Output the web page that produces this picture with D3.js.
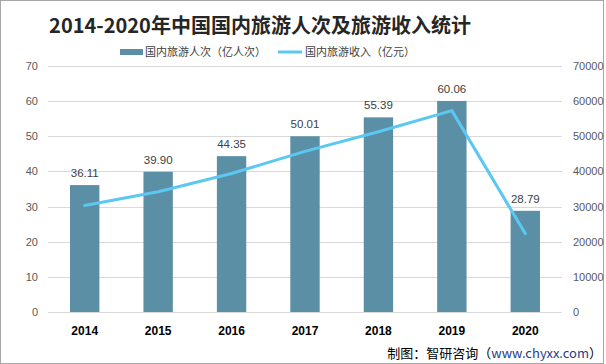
<!DOCTYPE html>
<html><head><meta charset="utf-8">
<script src="https://cdn.jsdelivr.net/npm/d3@7"></script>
<style>
body{margin:0;background:#fff;}
svg{display:block;font-family:"Noto Sans CJK SC","Noto Sans",sans-serif;}
</style></head>
<body><svg id="c" width="606" height="364"></svg>
<script>
const years = ["2014","2015","2016","2017","2018","2019","2020"];
const visitors = [36.11, 39.90, 44.35, 50.01, 55.39, 60.06, 28.79];
const revenue = [30300, 34200, 39400, 45700, 51300, 57300, 22300];
const leftTicks = [0,10,20,30,40,50,60,70];
const rightTicks = [0,10000,20000,30000,40000,50000,60000,70000];

const svg = d3.select("#c");
const W = 606, H = 364;
const m = {left:48, right:44, top:66, bottom:52};
const x = d3.scaleBand().domain(years).range([m.left, W-m.right]).paddingInner(0.6).paddingOuter(0.3);
const yL = d3.scaleLinear().domain([0,70]).range([H-m.bottom, m.top]);
const yR = d3.scaleLinear().domain([0,70000]).range([H-m.bottom, m.top]);

// border
svg.append("rect").attr("x",0.5).attr("y",0.5).attr("width",W-3).attr("height",H-1)
  .attr("fill","none").attr("stroke","#a6a6a6");

// gridlines
svg.append("g").selectAll("line").data(leftTicks).join("line")
  .attr("x1",m.left).attr("x2",W-m.right)
  .attr("y1",d=>Math.round(yL(d))+0.5).attr("y2",d=>Math.round(yL(d))+0.5)
  .attr("stroke","#d9d9d9").attr("stroke-width",1);

// left axis
const gL = svg.append("g").attr("transform",`translate(${m.left-10},0)`)
  .call(d3.axisLeft(yL).tickValues(leftTicks).tickSize(0).tickPadding(0));
gL.select(".domain").remove();
gL.selectAll("text").attr("fill","#595959").style("font-size","11px").style("font-family","'Liberation Sans',sans-serif");

// right axis
const gR = svg.append("g").attr("transform",`translate(${W-m.right+11},0)`)
  .call(d3.axisRight(yR).tickValues(rightTicks).tickFormat(d3.format("d")).tickSize(0).tickPadding(0));
gR.select(".domain").remove();
gR.selectAll("text").attr("fill","#595959").style("font-size","11px").style("font-family","'Liberation Sans',sans-serif");

// bars
svg.append("g").selectAll("rect").data(years).join("rect")
  .attr("x",(d)=>x(d)).attr("width",x.bandwidth())
  .attr("y",(d,i)=>yL(visitors[i])).attr("height",(d,i)=>yL(0)-yL(visitors[i]))
  .attr("fill","#5b8fa6");

// bar labels
svg.append("g").selectAll("text").data(years).join("text")
  .attr("x",d=>x(d)+x.bandwidth()/2).attr("y",(d,i)=>yL(visitors[i])-8)
  .attr("text-anchor","middle").attr("fill","#404040")
  .style("font-size","11.5px").style("font-family","'Liberation Sans',sans-serif")
  .text((d,i)=>visitors[i].toFixed(2));

// line
const line = d3.line().x((d,i)=>x(years[i])+x.bandwidth()/2).y(d=>yR(d));
svg.append("path").datum(revenue).attr("d",line)
  .attr("fill","none").attr("stroke","#5bc8f2").attr("stroke-width",3).attr("stroke-linejoin","round").attr("stroke-linecap","round");

// x axis labels
const gX = svg.append("g").attr("transform",`translate(0,${H-m.bottom})`)
  .call(d3.axisBottom(x).tickSize(0).tickPadding(14));
gX.select(".domain").remove();
gX.selectAll("text").attr("fill","#000").style("font-size","12px").style("font-weight","bold")
  .style("font-family","'Liberation Sans',sans-serif");

// title
svg.append("text").attr("x",260).attr("y",33).attr("text-anchor","middle")
  .style("font-size","20px").style("font-weight","bold").attr("fill","#262626")
  .text("2014-2020年中国国内旅游人次及旅游收入统计");

// legend
const lg = svg.append("g").style("font-size","11px").attr("fill","#404040");
lg.append("rect").attr("x",120).attr("y",49).attr("width",23).attr("height",6).attr("fill","#5b8fa6");
lg.append("text").attr("x",145).attr("y",56).text("国内旅游人次（亿人次）");
lg.append("line").attr("x1",278).attr("x2",302).attr("y1",52).attr("y2",52).attr("stroke","#5bc8f2").attr("stroke-width",3);
lg.append("text").attr("x",305).attr("y",56).text("国内旅游收入（亿元）");

// footer
const ft = svg.append("text").attr("x",602).attr("y",358).attr("text-anchor","end")
  .style("font-size","13px").attr("fill","#000");
ft.append("tspan").text("制图：智研咨询（");
ft.append("tspan").attr("fill","#1f3c88").text("www.chyxx.com");
ft.append("tspan").text("）");
</script></body></html>
